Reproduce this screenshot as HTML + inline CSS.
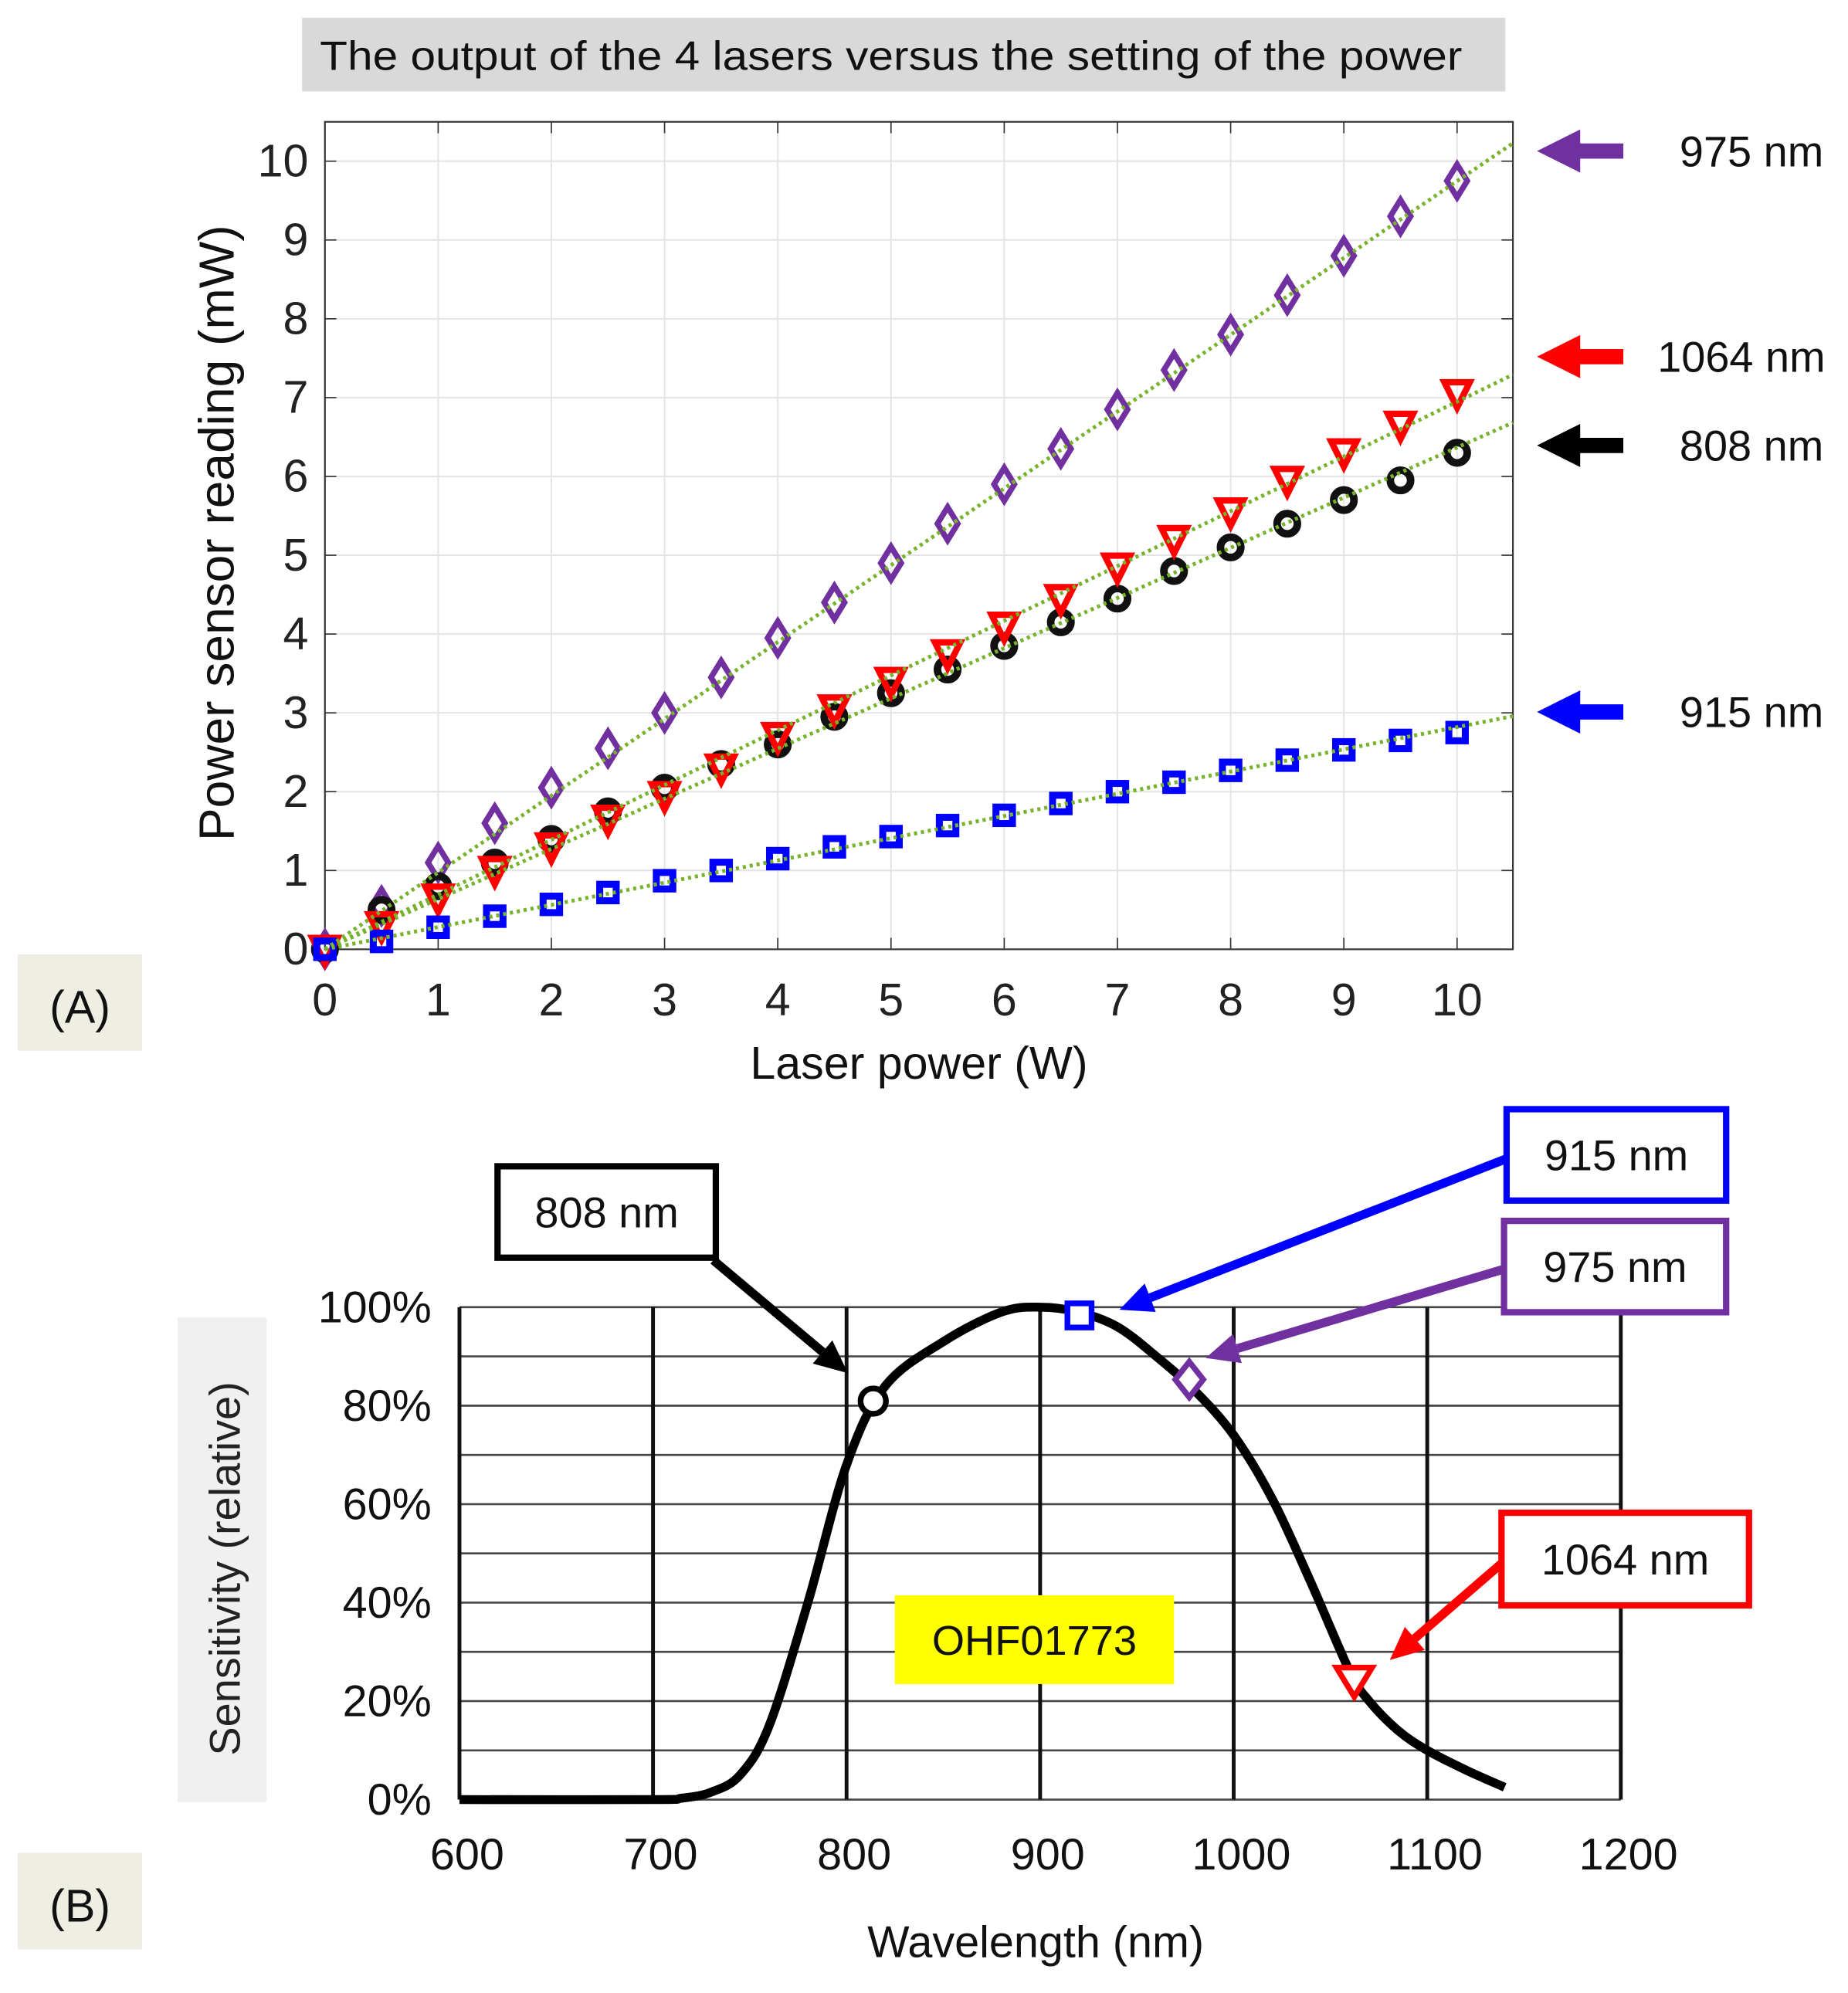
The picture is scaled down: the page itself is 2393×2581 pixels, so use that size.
<!DOCTYPE html>
<html><head><meta charset="utf-8"><style>
html,body{margin:0;padding:0;background:#fff}
svg{display:block}
text{font-family:"Liberation Sans",sans-serif}
</style></head><body>
<svg id="s" width="2393" height="2581" viewBox="0 0 1456 1570.4" xmlns="http://www.w3.org/2000/svg">
<rect width="1456" height="1571" fill="#fff"/>
<!-- Panel A -->
<rect x="238" y="14" width="948" height="58" fill="#d9d9d9"/>
<text x="252" y="55" font-size="32" textLength="900" lengthAdjust="spacingAndGlyphs" fill="#111">The output of the 4 lasers versus the setting of the power</text>
<rect x="14" y="752" width="98" height="76" fill="#efeee3"/>
<text x="63" y="806" font-size="36" text-anchor="middle" fill="#111">(A)</text>
<g id="A"></g>
<!-- Panel B -->
<rect x="140" y="1038" width="70" height="382" fill="#f0f0f0"/>
<text transform="translate(189,1236) rotate(-90)" font-size="34" text-anchor="middle" fill="#222">Sensitivity (relative)</text>
<rect x="14" y="1460" width="98" height="76" fill="#efeee3"/>
<text x="63" y="1514" font-size="36" text-anchor="middle" fill="#111">(B)</text>
<text x="816" y="1542" font-size="35" text-anchor="middle" fill="#111">Wavelength (nm)</text>
<g id="B"></g>
</svg>
<script>
var h='';
var X0=256,XS=89.2,Y0=748,YS=62.1;
function px(x){return X0+x*XS} function py(y){return Y0-y*YS}
for(var i=0;i<=10;i++){h+='<line x1="'+px(i)+'" y1="96" x2="'+px(i)+'" y2="748" stroke="#e4e4e4" stroke-width="1.2"/>';
h+='<line x1="256" y1="'+py(i)+'" x2="1192" y2="'+py(i)+'" stroke="#e4e4e4" stroke-width="1.2"/>';
h+='<line x1="'+px(i)+'" y1="748" x2="'+px(i)+'" y2="739" stroke="#333"/><line x1="'+px(i)+'" y1="96" x2="'+px(i)+'" y2="105" stroke="#333"/>';
h+='<line x1="256" y1="'+py(i)+'" x2="265" y2="'+py(i)+'" stroke="#333"/><line x1="1192" y1="'+py(i)+'" x2="1183" y2="'+py(i)+'" stroke="#333"/>';
h+='<text x="'+px(i)+'" y="800" font-size="36" text-anchor="middle" fill="#222">'+i+'</text>';
h+='<text x="243" y="'+(py(i)+12)+'" font-size="36" text-anchor="end" fill="#222">'+i+'</text>';}
h+='<rect x="256" y="96" width="936" height="652" fill="none" stroke="#333" stroke-width="1.3"/>';
h+='<text transform="translate(184,420) rotate(-90)" font-size="39" text-anchor="middle" fill="#111">Power sensor reading (mW)</text>';
h+='<text x="724" y="850" font-size="36" text-anchor="middle" fill="#111">Laser power (W)</text>';
var S=[
{c:'#7030a0',m:'d',sl:0.975,d:[0,0.55,1.1,1.6,2.05,2.55,3.0,3.45,3.95,4.4,4.9,5.4,5.9,6.35,6.85,7.35,7.8,8.3,8.8,9.3,9.75]},
{c:'#111',m:'o',sl:0.637,d:[0,0.5,0.8,1.1,1.4,1.75,2.05,2.35,2.6,2.95,3.25,3.55,3.85,4.15,4.45,4.8,5.1,5.4,5.7,5.95,6.3]},
{c:'#ff0000',m:'v',sl:0.695,d:[0,0.3,0.65,1.0,1.3,1.65,1.95,2.3,2.7,3.05,3.4,3.75,4.1,4.45,4.85,5.2,5.55,5.95,6.3,6.65,7.05]},
{c:'#0000ff',m:'s',sl:0.282,d:[0,0.1,0.28,0.42,0.57,0.72,0.87,1.0,1.15,1.3,1.43,1.57,1.7,1.85,2.0,2.12,2.27,2.4,2.53,2.65,2.75]}];
var L='';
S.forEach(function(s){
 s.d.forEach(function(v,k){var x=px(k*0.5),y=py(v);
  if(s.m=='d')h+='<polygon points="'+x+','+(y-13)+' '+(x+8)+','+y+' '+x+','+(y+13)+' '+(x-8)+','+y+'" fill="none" stroke="'+s.c+'" stroke-width="4.5"/>';
  if(s.m=='o')h+='<circle cx="'+x+'" cy="'+y+'" r="8" fill="none" stroke="'+s.c+'" stroke-width="6"/>';
  if(s.m=='v')h+='<polygon points="'+(x-10)+','+(y-9)+' '+(x+10)+','+(y-9)+' '+x+','+(y+11)+'" fill="none" stroke="'+s.c+'" stroke-width="5"/>';
  if(s.m=='s')h+='<rect x="'+(x-6.5)+'" y="'+(y-6.5)+'" width="13" height="13" fill="none" stroke="'+s.c+'" stroke-width="5.5"/>';
 });
 L+='<line x1="256" y1="748" x2="1192" y2="'+py(s.sl*10.49)+'" stroke="#77b32c" stroke-width="3" stroke-dasharray="2.5 3"/>';
});
h+=L;
function arr(y,c){return '<polygon points="1211,'+y+' 1245,'+(y-17)+' 1245,'+(y-6)+' 1279,'+(y-6)+' 1279,'+(y+6)+' 1245,'+(y+6)+' 1245,'+(y+17)+'" fill="'+c+'"/>'}
h+=arr(119,'#7030a0')+arr(281,'#ff0000')+arr(351,'#000')+arr(561,'#0000ff');
h+='<text x="1380" y="131" font-size="34" text-anchor="middle" fill="#111">975 nm</text>';
h+='<text x="1372" y="293" font-size="34" text-anchor="middle" fill="#111">1064 nm</text>';
h+='<text x="1380" y="363" font-size="34" text-anchor="middle" fill="#111">808 nm</text>';
h+='<text x="1380" y="573" font-size="34" text-anchor="middle" fill="#111">915 nm</text>';
document.getElementById('A').innerHTML=h;
h='';
function bx(w){return 362+(w-600)*1.525} function by(p){return 1418-p*3.88}
for(var p=0;p<=100;p+=10){h+='<line x1="362" y1="'+by(p)+'" x2="1277" y2="'+by(p)+'" stroke="#444" stroke-width="1.6"/>';}
for(var w=600;w<=1200;w+=100){h+='<line x1="'+bx(w)+'" y1="1030" x2="'+bx(w)+'" y2="1418" stroke="#111" stroke-width="3"/>';
h+='<text x="'+(bx(w)+6)+'" y="1473" font-size="35" text-anchor="middle" fill="#111">'+w+'</text>';}
for(var p=0;p<=100;p+=20)h+='<text x="340" y="'+(by(p)+12)+'" font-size="35" text-anchor="end" fill="#111">'+p+'%</text>';
var C=[[600,0],[700,0],[715,0.3],[730,1.5],[745,5],[760,15],[780,40],[800,68],[820,84],[850,93],[880,99],[900,100],[920,99],[940,96],[960,90],[980,83],[1000,74],[1020,61],[1040,44],[1060,26],[1070,20],[1085,14],[1100,10],[1120,6],[1140,2.5]];
var P=C.map(function(q){return [bx(q[0]),by(q[1])]});
var d='M'+P[0][0]+','+P[0][1];
for(var i=0;i<P.length-1;i++){var p0=P[Math.max(0,i-1)],p1=P[i],p2=P[i+1],p3=P[Math.min(P.length-1,i+2)];
 d+=' C'+(p1[0]+(p2[0]-p0[0])/6)+','+(p1[1]+(p2[1]-p0[1])/6)+' '+(p2[0]-(p3[0]-p1[0])/6)+','+(p2[1]-(p3[1]-p1[1])/6)+' '+p2[0]+','+p2[1];}
h+='<path d="'+d+'" fill="none" stroke="#000" stroke-width="7" stroke-linejoin="round"/>';
h+='<rect x="705" y="1257" width="220" height="70" fill="#ffff00"/><text x="815" y="1304" font-size="33" text-anchor="middle" fill="#111">OHF01773</text>';
h+='<circle cx="688" cy="1104" r="10" fill="#fff" stroke="#000" stroke-width="4.5"/>';
h+='<rect x="841" y="1027" width="19" height="19" fill="#fff" stroke="#0000ff" stroke-width="4.5"/>';
h+='<polygon points="937,1073 948,1087 937,1101 926,1087" fill="#fff" stroke="#7030a0" stroke-width="4.5"/>';
h+='<polygon points="1053,1314 1081,1314 1067,1337" fill="#fff" stroke="#ff0000" stroke-width="4.5"/>';
function ar(x1,y1,x2,y2,c){var a=Math.atan2(y2-y1,x2-x1),L=26,W=12;
 var bxp=x2-L*Math.cos(a),byp=y2-L*Math.sin(a);
 return '<line x1="'+x1+'" y1="'+y1+'" x2="'+bxp+'" y2="'+byp+'" stroke="'+c+'" stroke-width="7"/>'+
 '<polygon points="'+x2+','+y2+' '+(bxp+W*Math.sin(a))+','+(byp-W*Math.cos(a))+' '+(bxp-W*Math.sin(a))+','+(byp+W*Math.cos(a))+'" fill="'+c+'"/>';}
h+=ar(562,993,668,1082,'#000')+ar(1187,913,882,1032,'#0000ff')+ar(1185,1000,950,1070,'#7030a0')+ar(1183,1232,1095,1308,'#ff0000');
function box(x,y,w,hh,c,t){return '<rect x="'+x+'" y="'+y+'" width="'+w+'" height="'+hh+'" fill="#fff" stroke="'+c+'" stroke-width="5"/><text x="'+(x+w/2)+'" y="'+(y+hh/2+12)+'" font-size="34" text-anchor="middle" fill="#111">'+t+'</text>'}
h+=box(392,919,172,72,'#000','808 nm')+box(1187,874,173,72,'#0000ff','915 nm')+box(1185,962,175,72,'#7030a0','975 nm')+box(1183,1192,195,73,'#ff0000','1064 nm');
document.getElementById('B').innerHTML=h;
</script>
</body></html>
